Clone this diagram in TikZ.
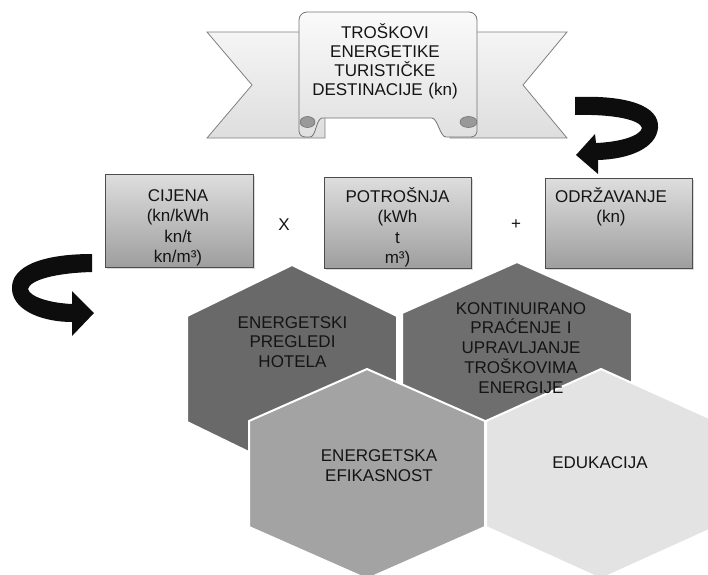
\documentclass[tikz,border=0pt]{standalone}
\usepackage{fontspec}
\setmainfont{Liberation Sans}
\usetikzlibrary{shadows}
\begin{document}
\begin{tikzpicture}[x=1pt,y=-1pt,
  txt/.style={font=\fontsize{17}{20.5}\selectfont, text width=230pt, align=center, anchor=base, inner sep=0pt, text=black!92},
  bantxt/.style={txt, font=\fontsize{17}{19}\selectfont},
  hextxt/.style={txt, font=\fontsize{17}{19.75}\selectfont},
  box/.style={draw=black!70, line width=0.8pt, top color=black!13, bottom color=black!38,
    drop shadow={opacity=0.3, shadow xshift=1.5pt, shadow yshift=-1.5pt}, inner sep=0pt},
  tail/.style={draw=black!50, line width=0.8pt, top color=black!4, bottom color=black!13},
  panel/.style={draw=black!55, line width=0.8pt, top color=black!2, bottom color=black!12},
  rollin/.style={fill=black!40, draw=black!55, line width=0.6pt},
  hexa/.style={draw=white, line width=2pt, line join=miter},
  arrowfill/.style={fill=black!95},
  sym/.style={font=\fontsize{17}{20}\selectfont, inner sep=0pt, text=black!92}]
\useasboundingbox (0,0) rectangle (708,574);
\begin{scope}
\clip (0,0) rectangle (708,574);
% ---------- hexagons ----------
\path[hexa, fill=black!59] (292,265) -- (397,316) -- (397,422) -- (292,473) -- (187,422) -- (187,316) -- cycle;
\path[hexa, fill=black!57] (517,262) -- (632,313) -- (632,419) -- (517,470) -- (402,419) -- (402,313) -- cycle;
\path[hexa, fill=black!36] (367,369) -- (485,421) -- (485,527) -- (367,579) -- (249,527) -- (249,421) -- cycle;
\path[hexa, fill=black!11] (601,369) -- (716,421) -- (716,527) -- (601,579) -- (486,527) -- (486,421) -- cycle;
\end{scope}
% ---------- banner ----------
\path[tail] (325,32) -- (207,32) -- (252,85) -- (207,138) -- (325,138) -- cycle;
\path[tail] (450,32) -- (567,32) -- (523,85) -- (567,138) -- (450,138) -- cycle;
\path[panel] (299,20) .. controls (299,15.6) and (302.6,12) .. (307,12)
  -- (469,12) .. controls (473.4,12) and (477,15.6) .. (477,20)
  -- (477,131) .. controls (477,134.3) and (474.3,137) .. (471,137)
  -- (446,137) .. controls (440,137) and (438,119) .. (432,118)
  -- (322,118) .. controls (316,119) and (316,137) .. (310,137)
  -- (305,137) .. controls (301.7,137) and (299,134.3) .. (299,131) -- cycle;
\path[rollin] (307.5,122) ellipse [x radius=7.5pt, y radius=5.5pt];
\path[rollin] (468.5,122) ellipse [x radius=8.5pt, y radius=5.5pt];
\node[bantxt] (naslov) at (385,38.5) {TROŠKOVI\\ENERGETIKE\\TURISTIČKE\\DESTINACIJE (kn)};
% ---------- curved arrows ----------
\path[arrowfill] (575,97) .. controls (625,95) and (660,105) .. (658,128)
  .. controls (656,148) and (630,159) .. (598,160)
  -- (598,174) -- (576,155) -- (595,134) -- (596,143)
  .. controls (620,142) and (640,136) .. (642,128)
  .. controls (640,120) and (615,114) .. (575,115) -- cycle;
\path[arrowfill] (92,254) .. controls (45,254) and (10,265) .. (12,290)
  .. controls (14,312) and (45,322) .. (72,322)
  -- (72,336) -- (94,313) -- (72,291) -- (72,304)
  .. controls (50,303) and (30,297) .. (28,289)
  .. controls (30,280) and (55,273) .. (92,272) -- cycle;
% ---------- boxes ----------
\node[box, minimum width=148pt, minimum height=93pt] (cijena) at (179,220.5) {};
\node[box, minimum width=147pt, minimum height=91pt] (potrosnja) at (397.5,222.5) {};
\node[box, minimum width=147pt, minimum height=90pt] (odrzavanje) at (618.5,223) {};
\node[txt] (cijenaT) at (178,201) {CIJENA\\(kn/kWh\\kn/t\\kn/m³)};
\node[txt] (potrosnjaT) at (397.5,202) {POTROŠNJA\\(kWh\\t\\m³)};
\node[txt] (odrzavanjeT) at (611,202) {ODRŽAVANJE\\(kn)};
\node[sym] (puta) at (284,225) {X};
\node[sym] (plus) at (516,225) {+};
% ---------- hexagon texts ----------
\node[hextxt] (h1) at (292.5,328) {ENERGETSKI\\PREGLEDI\\HOTELA};
\node[hextxt] (h2) at (521,314) {KONTINUIRANO\\PRAĆENJE I\\UPRAVLJANJE\\TROŠKOVIMA\\ENERGIJE};
\node[hextxt, font=\fontsize{17}{20}\selectfont] (h3) at (379,461) {ENERGETSKA\\EFIKASNOST};
\node[hextxt] (h4) at (600,468) {EDUKACIJA};
\end{tikzpicture}
\end{document}
